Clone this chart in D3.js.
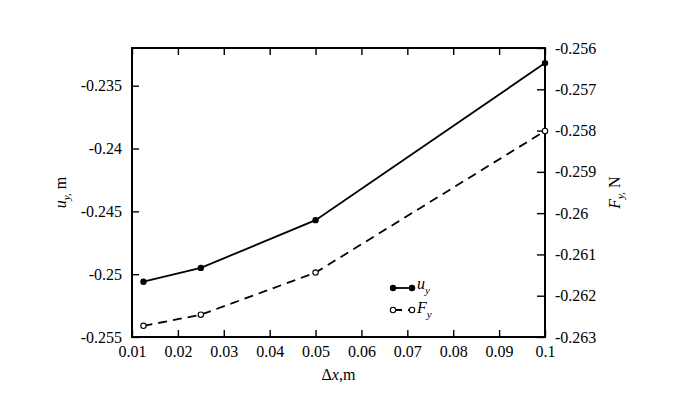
<!DOCTYPE html>
<html>
<head>
<meta charset="utf-8">
<script src="https://cdn.jsdelivr.net/npm/d3@7"></script>
<style>
  body { margin: 0; background: #fff; }
  svg text { font-family: "Liberation Serif", "Times New Roman", Times, serif !important; fill: #000; }
</style>
</head>
<body>
<div id="chart"></div>
<script>
(function () {
    'use strict';
    var dx = [0.0125, 0.025, 0.05, 0.1],
        uy = [-0.2506, -0.2495, -0.2457, -0.2332],
        fy = [-0.26273, -0.26246, -0.26144, -0.25801],
        xTicks = [0.01, 0.02, 0.03, 0.04, 0.05, 0.06, 0.07, 0.08, 0.09, 0.1],
        leftTicks = [-0.255, -0.25, -0.245, -0.24, -0.235],
        rightTicks = [-0.263, -0.262, -0.261, -0.26, -0.259, -0.258, -0.257, -0.256];

    var width = 682, height = 396,
        margin = {left: 132, right: 137, top: 48, bottom: 59},
        w = width - margin.left - margin.right,
        h = height - margin.top - margin.bottom;

    var svg = d3.select("#chart").append("svg")
        .attr("width", width)
        .attr("height", height)
        .attr("font-family", "Liberation Serif");

    var g = svg.append("g")
        .attr("transform", "translate(" + margin.left + "," + margin.top + ")");

    var x = d3.scaleLinear().domain([0.01, 0.1]).range([0, w]),
        yL = d3.scaleLinear().domain([-0.255, -0.232]).range([h, 0]),
        yR = d3.scaleLinear().domain([-0.263, -0.256]).range([h, 0]);

    function fmt(d) { return String(+d.toFixed(4)); }

    // axes, ticks pointing in
    var axB = g.append("g").attr("transform", "translate(0," + h + ")")
        .call(d3.axisBottom(x).tickValues(xTicks).tickFormat(fmt)
            .tickSizeInner(-7).tickSizeOuter(0).tickPadding(9));
    var axT = g.append("g")
        .call(d3.axisTop(x).tickValues(xTicks).tickFormat("")
            .tickSizeInner(-7).tickSizeOuter(0));
    var axL = g.append("g")
        .call(d3.axisLeft(yL).tickValues(leftTicks).tickFormat(fmt)
            .tickSizeInner(-7).tickSizeOuter(0).tickPadding(10));
    var axR = g.append("g").attr("transform", "translate(" + w + ",0)")
        .call(d3.axisRight(yR).tickValues(rightTicks).tickFormat(fmt)
            .tickSizeInner(-8).tickSizeOuter(0).tickPadding(10));

    [axB, axT, axL, axR].forEach(function (a) {
        a.attr("font-family", null).attr("font-size", null);
        a.select(".domain").remove();
        a.selectAll("line").attr("stroke", "#000").attr("stroke-width", 1.4);
        a.selectAll("text").style("font-size", "16px");
    });

    g.append("rect")
        .attr("width", w).attr("height", h)
        .attr("fill", "none").attr("stroke", "#000").attr("stroke-width", 2);

    var ptsU = dx.map(function (d, i) { return [d, uy[i]]; }),
        ptsF = dx.map(function (d, i) { return [d, fy[i]]; });

    g.append("path").datum(ptsU)
        .attr("fill", "none").attr("stroke", "#000").attr("stroke-width", 1.8)
        .attr("d", d3.line().x(function (d) { return x(d[0]); }).y(function (d) { return yL(d[1]); }));
    g.append("path").datum(ptsF)
        .attr("fill", "none").attr("stroke", "#000").attr("stroke-width", 1.8)
        .attr("stroke-dasharray", "9,6")
        .attr("d", d3.line().x(function (d) { return x(d[0]); }).y(function (d) { return yR(d[1]); }));

    g.selectAll("circle.u").data(ptsU).enter().append("circle")
        .attr("class", "u")
        .attr("cx", function (d) { return x(d[0]); })
        .attr("cy", function (d) { return yL(d[1]); })
        .attr("r", 3.2).attr("fill", "#000");
    g.selectAll("circle.f").data(ptsF).enter().append("circle")
        .attr("class", "f")
        .attr("cx", function (d) { return x(d[0]); })
        .attr("cy", function (d) { return yR(d[1]); })
        .attr("r", 2.7).attr("fill", "#fff").attr("stroke", "#000").attr("stroke-width", 1.1);

    // legend
    var leg = svg.append("g").attr("transform", "translate(393,288)");
    leg.append("line").attr("x1", 0).attr("x2", 19).attr("stroke", "#000").attr("stroke-width", 1.8);
    leg.selectAll("circle.lu").data([0, 19]).enter().append("circle")
        .attr("cx", function (d) { return d; }).attr("r", 3.2).attr("fill", "#000");
    var t1 = leg.append("text").attr("x", 24).attr("y", 1).style("font-size", "16px");
    t1.append("tspan").style("font-style", "italic").text("u");
    t1.append("tspan").attr("dy", 5).style("font-size", "11px").style("font-style", "italic").text("y");

    var leg2 = svg.append("g").attr("transform", "translate(393,310)");
    leg2.append("line").attr("x1", 0).attr("x2", 19).attr("stroke", "#000").attr("stroke-width", 1.8)
        .attr("stroke-dasharray", "9,6");
    leg2.selectAll("circle.lf").data([0, 19]).enter().append("circle")
        .attr("cx", function (d) { return d; }).attr("r", 2.7)
        .attr("fill", "#fff").attr("stroke", "#000").attr("stroke-width", 1.1);
    var t2 = leg2.append("text").attr("x", 24).attr("y", 3).style("font-size", "16px");
    t2.append("tspan").style("font-style", "italic").text("F");
    t2.append("tspan").attr("dy", 5).style("font-size", "11px").style("font-style", "italic").text("y");

    // axis titles
    var tl = svg.append("text")
        .attr("transform", "translate(66," + (margin.top + h / 2) + ") rotate(-90)")
        .attr("text-anchor", "middle").style("font-size", "16px");
    tl.append("tspan").style("font-style", "italic").text("u");
    tl.append("tspan").attr("dy", 4).style("font-size", "11px").style("font-style", "italic").text("y,");
    tl.append("tspan").attr("dy", -4).text(" m");

    var tr = svg.append("text")
        .attr("transform", "translate(620," + (margin.top + h / 2) + ") rotate(-90)")
        .attr("text-anchor", "middle").style("font-size", "16px");
    tr.append("tspan").style("font-style", "italic").text("F");
    tr.append("tspan").attr("dy", 4).style("font-size", "11px").style("font-style", "italic").text("y,");
    tr.append("tspan").attr("dy", -4).text(" N");

    var tb = svg.append("text")
        .attr("x", margin.left + w / 2).attr("y", 380)
        .attr("text-anchor", "middle").style("font-size", "16px");
    tb.append("tspan").text("\u0394");
    tb.append("tspan").style("font-style", "italic").text("x");
    tb.append("tspan").text(",m");
}());
</script>
</body>
</html>
